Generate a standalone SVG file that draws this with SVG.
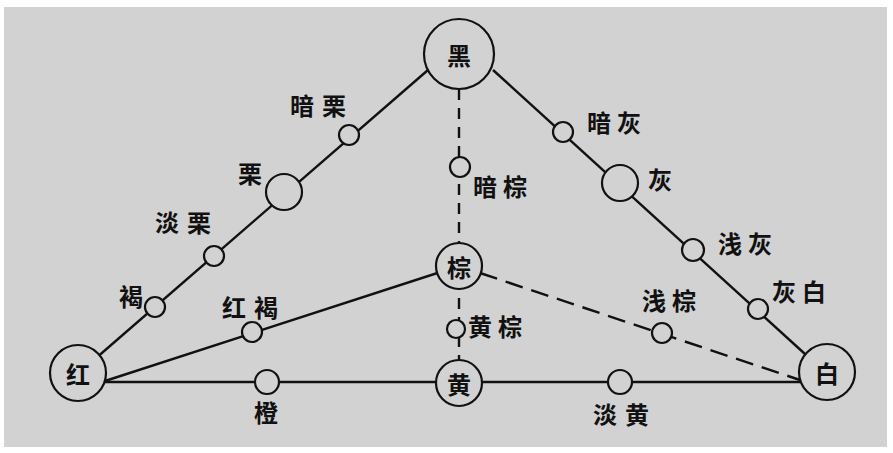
<svg xmlns="http://www.w3.org/2000/svg" width="893" height="453" viewBox="0 0 893 453">
<style>
.ln{stroke:#111;stroke-width:2.4;fill:none}
.dv{stroke:#111;stroke-width:2.4;fill:none;stroke-dasharray:11 8}
.dd{stroke:#111;stroke-width:2.4;fill:none;stroke-dasharray:18 9}
.nd{fill:#d2d2d2;stroke:#111;stroke-width:2.2}
.t{font-family:"Noto Sans CJK SC","Noto Sans CJK JP",sans-serif;font-size:24px;font-weight:600;fill:#111;dominant-baseline:central}
.tc{text-anchor:middle}
</style>
<rect x="0" y="0" width="893" height="453" fill="#ffffff"/>
<rect x="4" y="7" width="883" height="440" fill="#d2d2d2"/>
<g id="connectors">
<line class="ln" x1="80" y1="372" x2="428" y2="70"/>
<line class="ln" x1="493" y1="70" x2="805" y2="354"/>
<line class="ln" x1="105" y1="382" x2="800" y2="382"/>
<line class="ln" x1="105" y1="381" x2="459" y2="266"/>
<line class="dv" x1="459" y1="89" x2="459" y2="360"/>
<line class="dd" x1="480" y1="273" x2="800" y2="380"/>
</g>
<g id="hei"><circle class="nd" cx="459" cy="54" r="35"/><text class="t tc" x="459" y="54" font-size="26">黑</text></g>
<g id="hong"><circle class="nd" cx="78" cy="373" r="28"/><text class="t tc" x="78" y="373" font-size="25">红</text></g>
<g id="bai"><circle class="nd" cx="827" cy="372" r="28"/><text class="t tc" x="827" y="372" font-size="25">白</text></g>
<g id="zong"><circle class="nd" cx="459" cy="266" r="23"/><text class="t tc" x="459" y="266">棕</text></g>
<g id="huang"><circle class="nd" cx="459" cy="383" r="23"/><text class="t tc" x="459" y="383">黄</text></g>
<g id="anli"><circle class="nd" cx="349" cy="135" r="10"/><text class="t" x="290" y="104" letter-spacing="8">暗栗</text></g>
<g id="li"><circle class="nd" cx="284" cy="192" r="18"/><text class="t tc" x="250" y="172">栗</text></g>
<g id="danli"><circle class="nd" cx="214" cy="256" r="10"/><text class="t" x="155" y="221" letter-spacing="8">淡栗</text></g>
<g id="he"><circle class="nd" cx="155" cy="307" r="10"/><text class="t tc" x="131" y="295">褐</text></g>
<g id="honghe"><circle class="nd" cx="252" cy="332" r="10"/><text class="t" x="222" y="306" letter-spacing="8">红褐</text></g>
<g id="cheng"><circle class="nd" cx="267" cy="382" r="12"/><text class="t tc" x="266" y="411">橙</text></g>
<g id="anzong"><circle class="nd" cx="460" cy="167" r="10"/><text class="t" x="473" y="185" letter-spacing="6">暗棕</text></g>
<g id="huangzong"><circle class="nd" cx="456" cy="329" r="9"/><text class="t" x="468" y="325" letter-spacing="6">黄棕</text></g>
<g id="anhui"><circle class="nd" cx="563" cy="132" r="10"/><text class="t" x="587" y="121" letter-spacing="6">暗灰</text></g>
<g id="hui"><circle class="nd" cx="620" cy="183" r="18"/><text class="t tc" x="660" y="178">灰</text></g>
<g id="qianhui"><circle class="nd" cx="693" cy="250" r="11"/><text class="t" x="718" y="242" letter-spacing="6">浅灰</text></g>
<g id="huibai"><circle class="nd" cx="758" cy="309" r="10"/><text class="t" x="772" y="290" letter-spacing="6">灰白</text></g>
<g id="qianzong"><circle class="nd" cx="662" cy="333" r="10"/><text class="t" x="642" y="299" letter-spacing="6">浅棕</text></g>
<g id="danhuang"><circle class="nd" cx="620" cy="382" r="12"/><text class="t" x="593" y="413" letter-spacing="8">淡黄</text></g>
</svg>
